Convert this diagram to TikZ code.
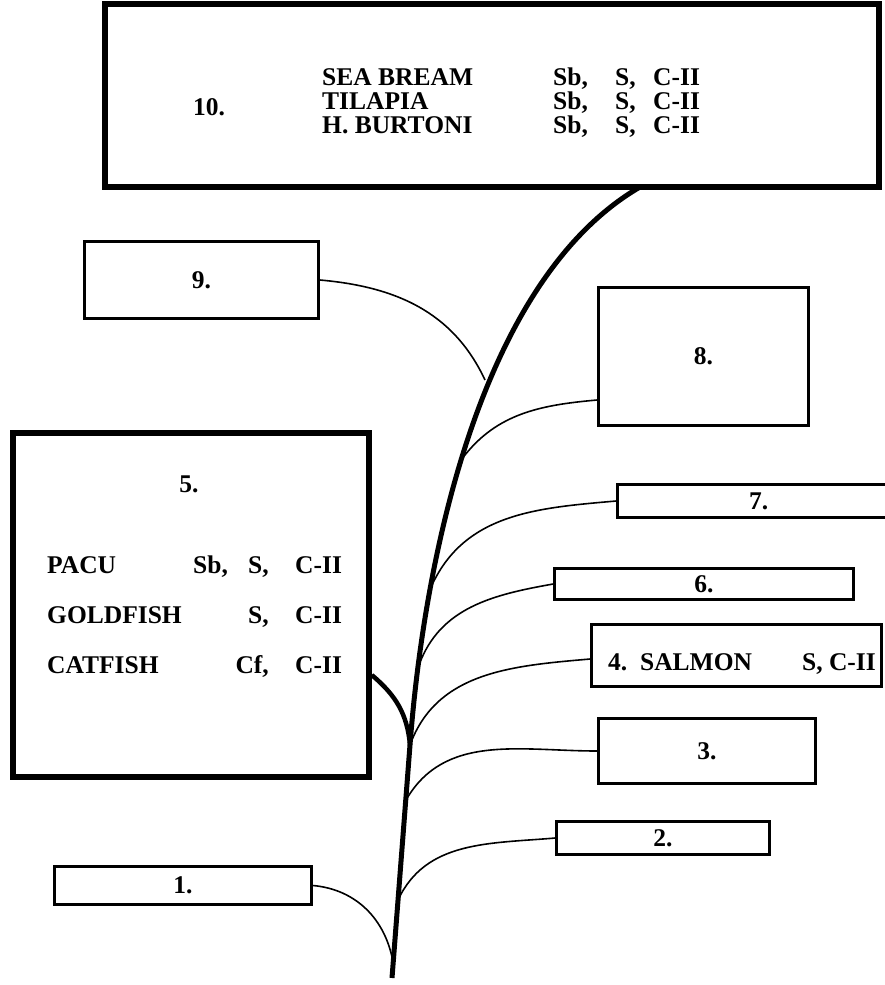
\documentclass[tikz,border=0pt]{standalone}
\usepackage{fontspec}
\setmainfont{Liberation Serif}
\begin{document}
\begin{tikzpicture}[x=1pt,y=1pt,
  every node/.style={font=\fontsize{25.5}{24}\selectfont\bfseries},
  thinbox/.style={draw, line width=2.6pt, inner sep=0pt},
  thickbox/.style={draw, line width=5.5pt, inner sep=0pt},
  twig/.style={line width=1.6pt},
  trunkline/.style={line width=5pt},
  lw/.style={anchor=base west, inner sep=0pt},
  le/.style={anchor=base east, inner sep=0pt},
  lc/.style={anchor=base, inner sep=0pt}
]
\useasboundingbox (0,0) rectangle (885,-985);
\clip (0,0) rectangle (885,-985);
\fill[white] (0,0) rectangle (885,-985);

% boxes
\node[thickbox, minimum width=774pt, minimum height=183pt] (b10) at (492,-95.5) {};
\node[thinbox, minimum width=234pt, minimum height=77pt] (b9) at (201.5,-280) {9.};
\node[thinbox, minimum width=210pt, minimum height=138pt] (b8) at (703.5,-356.5) {8.};
\node[thinbox, minimum width=282.5pt, minimum height=33pt] (b7) at (758.75,-501) {7.};
\node[thinbox, minimum width=299pt, minimum height=31pt] (b6) at (704,-584) {6.};
\node[thinbox, minimum width=290pt, minimum height=62pt] (b4) at (736.5,-655.5) {};
\node[thinbox, minimum width=217pt, minimum height=65pt] (b3) at (707,-751) {3.};
\node[thinbox, minimum width=213pt, minimum height=33pt] (b2) at (663,-838) {2.};
\node[thinbox, minimum width=257pt, minimum height=38pt] (b1) at (183,-885.5) {1.};
\node[thickbox, minimum width=356pt, minimum height=344pt] (b5) at (191,-605) {};

% box 10 text
\node[lw] (t10) at (193,-115) {10.};
\node[lw] (n10a) at (322,-85) {SEA BREAM};
\node[lw] (n10b) at (322,-109) {TILAPIA};
\node[lw] (n10c) at (322,-133) {H. BURTONI};
\foreach \r/\yy in {a/85,b/109,c/133}{
  \node[lw] (sb\r) at (553,-\yy) {Sb,};
  \node[lw] (s\r) at (615,-\yy) {S,};
  \node[lw] (c\r) at (653,-\yy) {C-II};
}

% box 5 text
\node[lc] (t5) at (189,-492) {5.};
\node[lw] (pacu) at (47,-573) {PACU};
\node[lw] (gold) at (47,-623) {GOLDFISH};
\node[lw] (cat) at (47,-673) {CATFISH};
\node[lw] (pacusb) at (193,-573) {Sb,};
\node[le] (pacus) at (269,-573) {S,};
\node[le] (golds) at (269,-623) {S,};
\node[le] (catcf) at (269,-673) {Cf,};
\node[lw] (pacuc) at (295,-573) {C-II};
\node[lw] (goldc) at (295,-623) {C-II};
\node[lw] (catc) at (295,-673) {C-II};

% box 4 text
\node[lw] (t4) at (608,-670) {4.\ \ SALMON};
\node[le] (t4b) at (876,-670) {S, C-II};

% trunk
\coordinate (jb) at (392,-978);
\coordinate (j4) at (410,-745);
\coordinate (jt) at (640,-187);
\coordinate (j9) at (485,-380);
\coordinate (j8) at (459,-463);
\coordinate (j7) at (432,-585);
\coordinate (j6) at (419,-665);
\coordinate (j3) at (406,-800);
\coordinate (j2) at (398,-900);
\coordinate (j1) at (393,-962);
\draw[trunkline] (jb) -- (j4) .. controls (424,-560) and (480,-280) .. (jt);

% thick branch from box 5
\draw[line width=4.5pt] ([yshift=-70pt]b5.east) to[out=-40, in=95] (j4);

% thin branches
\draw[twig] (b9.east) to[out=-5, in=115] (j9);
\draw[twig] ([yshift=-43.5pt]b8.west) to[out=185, in=55] (j8);
\draw[twig] (b7.west) to[out=185, in=65] (j7);
\draw[twig] (b6.west) to[out=190, in=70] (j6);
\draw[twig] ([yshift=-3.5pt]b4.west) to[out=185, in=70] (j4);
\draw[twig] (b3.west) to[out=180, in=60] (j3);
\draw[twig] (b2.west) to[out=185, in=65] (j2);
\draw[twig] (b1.east) to[out=-5, in=100] (j1);
\end{tikzpicture}
\end{document}
